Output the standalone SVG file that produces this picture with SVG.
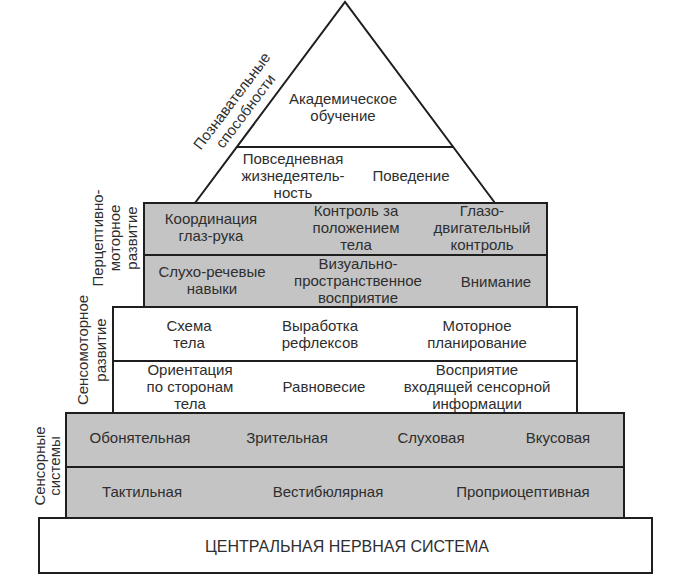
<svg xmlns="http://www.w3.org/2000/svg" width="692" height="580" viewBox="0 0 692 580">
<style>
text{font-family:"Liberation Sans",Arial,sans-serif;font-size:15px;fill:#2e2e2e;text-anchor:middle}
.box{stroke:#1e1e1e;stroke-width:2}
.g{fill:#c4c4c4}
.w{fill:#ffffff}
.ln{stroke:#1e1e1e;stroke-width:2;fill:none}
</style>
<rect width="692" height="580" fill="#fff"/>
<g id="cns">
<rect class="box w" x="39" y="518" width="613" height="55"/>
<text x="347" y="552" style="font-size:16px">ЦЕНТРАЛЬНАЯ НЕРВНАЯ СИСТЕМА</text>
</g>
<g id="sensory">
<rect class="box g" x="66" y="413" width="558" height="105"/>
<line class="ln" x1="66" y1="467" x2="624" y2="467"/>
<text x="140" y="443">Обонятельная</text>
<text x="287" y="443">Зрительная</text>
<text x="431" y="443">Слуховая</text>
<text x="558" y="443">Вкусовая</text>
<text x="142" y="497">Тактильная</text>
<text x="328" y="497">Вестибюлярная</text>
<text x="523" y="497">Проприоцептивная</text>
<text transform="translate(40,466) rotate(-90)"><tspan x="0" y="5">Сенсорные</tspan><tspan x="0" y="20">системы</tspan></text>
</g>
<g id="sensomotor">
<rect class="box w" x="113" y="307" width="464" height="106"/>
<line class="ln" x1="113" y1="361" x2="577" y2="361"/>
<text x="189" y="331">Схема</text><text x="189" y="348">тела</text>
<text x="320" y="331">Выработка</text><text x="320" y="348">рефлексов</text>
<text x="477" y="331">Моторное</text><text x="477" y="348">планирование</text>
<text x="190" y="375">Ориентация</text><text x="190" y="392">по сторонам</text><text x="190" y="409">тела</text>
<text x="324" y="392">Равновесие</text>
<text x="477" y="375">Восприятие</text><text x="477" y="392">входящей сенсорной</text><text x="477" y="409">информации</text>
<text transform="translate(83,350) rotate(-90)"><tspan x="0" y="5">Сенсомоторное</tspan><tspan x="0" y="23">развитие</tspan></text>
</g>
<g id="perceptual">
<rect class="box g" x="144" y="203" width="403" height="104"/>
<line class="ln" x1="144" y1="255" x2="547" y2="255"/>
<text x="211" y="224">Координация</text><text x="211" y="241">глаз-рука</text>
<text x="356" y="216">Контроль за</text><text x="356" y="233">положением</text><text x="356" y="250">тела</text>
<text x="482" y="216">Глазо-</text><text x="482" y="233">двигательный</text><text x="482" y="250">контроль</text>
<text x="212" y="277">Слухо-речевые</text><text x="212" y="294">навыки</text>
<text x="358" y="269">Визуально-</text><text x="358" y="286">пространственное</text><text x="358" y="303">восприятие</text>
<text x="496" y="287">Внимание</text>
<text transform="translate(98,238) rotate(-90)"><tspan x="0" y="5">Перцептивно-</tspan><tspan x="0" y="22">моторное</tspan><tspan x="0" y="39">развитие</tspan></text>
</g>
<g id="cognitive">
<path class="ln" d="M195,203 L345,2 L495,203"/>
<line class="ln" x1="237" y1="147" x2="454" y2="147"/>
<text x="343" y="104">Академическое</text><text x="343" y="121">обучение</text>
<text x="293" y="164">Повседневная</text><text x="293" y="181">жизнедеятель-</text><text x="293" y="198">ность</text>
<text x="411" y="181">Поведение</text>
<text transform="translate(232,101) rotate(-53)"><tspan x="0" y="5">Познавательные</tspan><tspan x="0" y="22">способности</tspan></text>
</g>
<g id="connectors"></g>
</svg>
